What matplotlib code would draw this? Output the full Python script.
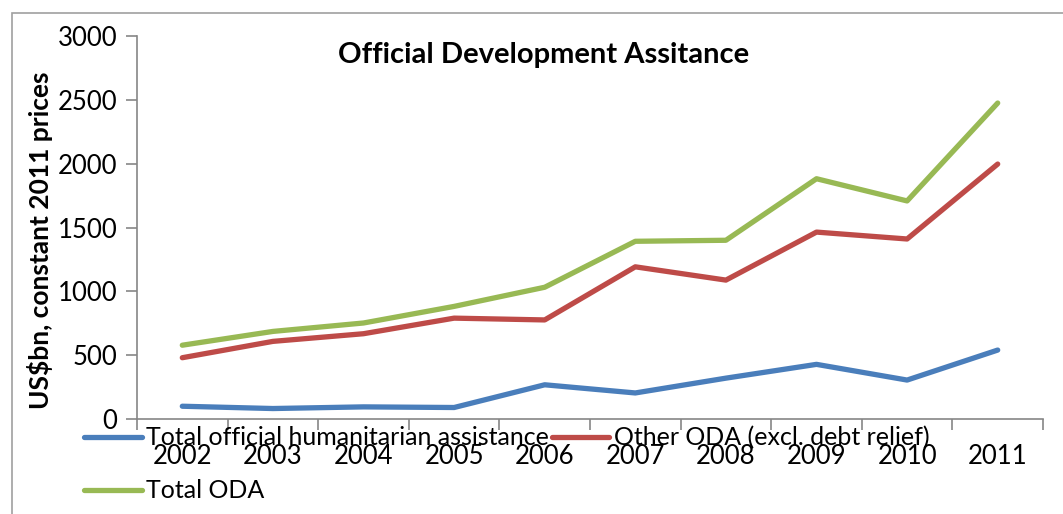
import matplotlib.pyplot as plt
from matplotlib.patches import Rectangle

years = ["2002", "2003", "2004", "2005", "2006", "2007", "2008", "2009", "2010", "2011"]
humanitarian = [100, 82, 95, 90, 268, 204, 320, 428, 305, 540]
other_oda = [480, 608, 668, 790, 776, 1192, 1088, 1464, 1410, 1997]
total_oda = [578, 686, 752, 882, 1032, 1392, 1400, 1882, 1708, 2475]

plt.rcParams['font.family'] = ['Lato', 'DejaVu Sans']

fig = plt.figure(figsize=(10.63, 5.14), dpi=100)
W, H = 1063, 514
ax = fig.add_axes([137 / W, 1 - 419 / H, (1043 - 137) / W, (419 - 36) / H])

# outer chart border
fig.patches.append(Rectangle((12 / W, -0.1), 1.2, 1 - 13 / H + 0.1, transform=fig.transFigure,
                             fill=False, edgecolor="#a0a0a0", linewidth=1.2))

x = range(len(years))
l1, = ax.plot(x, humanitarian, color="#4a7ebb", linewidth=3.8, solid_capstyle="round",
              label="Total official humanitarian assistance")
l2, = ax.plot(x, other_oda, color="#be4b48", linewidth=3.8, solid_capstyle="round",
              label="Other ODA (excl. debt relief)")
l3, = ax.plot(x, total_oda, color="#98b954", linewidth=3.8, solid_capstyle="round",
              label="Total ODA")

ax.set_xlim(-0.5, len(years) - 0.5)
ax.set_ylim(0, 3000)
ax.set_yticks(range(0, 3001, 500))
ax.set_xticks([i - 0.5 for i in range(len(years) + 1)], minor=False)
ax.set_xticklabels([])
ax.set_xticks(list(x), minor=True)
ax.set_xticklabels(years, minor=True)
ax.tick_params(axis="x", which="minor", length=0, pad=18, labelsize=18.5)
ax.tick_params(axis="x", which="major", length=8, color="#868686", width=1.2)
ax.tick_params(axis="y", length=8, color="#868686", width=1.2, labelsize=18.5, pad=6)

for side in ["top", "right"]:
    ax.spines[side].set_visible(False)
for side in ["left", "bottom"]:
    ax.spines[side].set_color("#868686")
    ax.spines[side].set_linewidth(1.2)

fig.text(544 / W, 1 - 55 / H, "Official Development Assitance", fontsize=21,
         fontweight="bold", ha="center", va="center")
fig.text(40 / W, 1 - 240 / H, "US$bn, constant 2011 prices", rotation=90, fontsize=19,
         fontweight="bold", ha="center", va="center")

# legend fills column-wise, so order handles to get the row layout
fig.legend(handles=[l1, l3, l2], ncol=2, frameon=False, fontsize=18,
           loc="upper left", bbox_to_anchor=(84 / W, 1 - 426 / H),
           borderpad=0, borderaxespad=0, handlelength=2.3, handletextpad=0.2,
           columnspacing=0.1, labelspacing=1.2)

fig.savefig("out.png", dpi=100)
